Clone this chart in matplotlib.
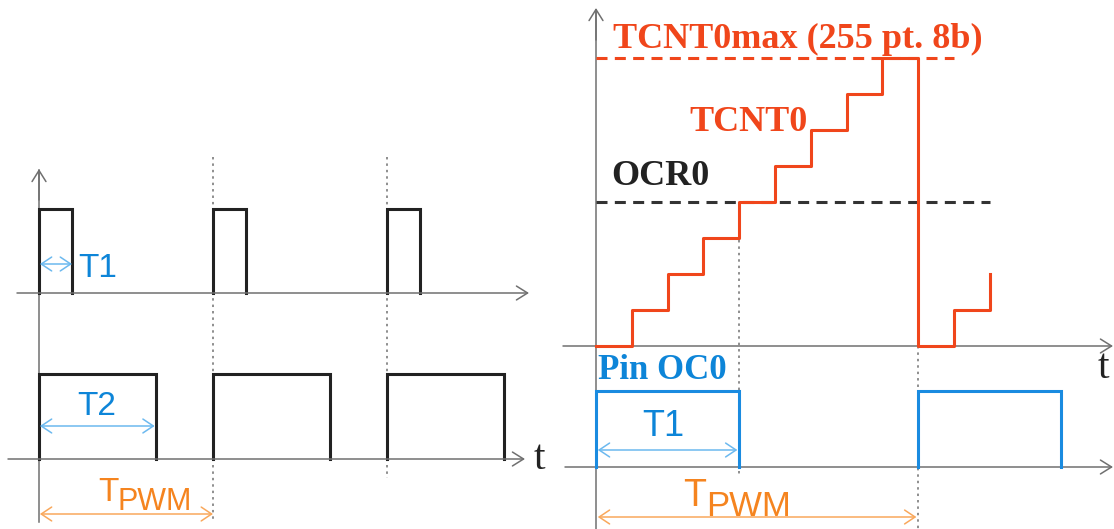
import matplotlib
matplotlib.use('Agg')
import matplotlib.pyplot as plt
from matplotlib.transforms import Affine2D, blended_transform_factory

# ---------------- data ----------------
# left panel: time in PWM periods
left_period_starts = [0, 1, 2]
left_duty_t1 = 0.19      # short pulse (T1)
left_duty_t2 = 0.675     # long pulse (T2)
# right panel: time in timer ticks, counter in steps
tcnt0_ticks = [0, 1, 2, 3, 4, 5, 6, 7, 8, 9, 10, 11]
tcnt0_values = [0, 1, 2, 3, 4, 5, 6, 7, 8, 0, 1, 2]
tcnt0_max = 8
ocr0_level = 4
pin_high = [(0, 4), (9, 13)]
pwm_period_ticks = 9

# ---------------- styles ----------------
W, H = 1114, 529
RED = '#f0461b'
BLUE = '#1a8be0'
BLUE_T = '#0d85d8'
LBLUE = '#6cb9ef'
ORANGE_T = '#f5841f'
ORANGE_A = '#f9a85c'
BLACK = '#222222'
AXC = '#707070'
SERIF = 'Liberation Serif'
SANS = 'Liberation Sans'

fig = plt.figure(figsize=(W / 100, H / 100), dpi=100)
ax = fig.add_axes([0, 0, 1, 1])
ax.set_xlim(0, W)
ax.set_ylim(H, 0)
ax.axis('off')
td = ax.transData

# panel scales (library transforms)
L_X0, L_SX = 39, 174
R_X0, R_SX = 596, 35.8
left_x = Affine2D().scale(L_SX, 1).translate(L_X0, 0) + td
right_x = Affine2D().scale(R_SX, 1).translate(R_X0, 0) + td
left_x_blend = blended_transform_factory(left_x, td)
right_x_blend = blended_transform_factory(right_x, td)
left_top = Affine2D().scale(L_SX, -84).translate(L_X0, 293) + td
left_bot = Affine2D().scale(L_SX, -85).translate(L_X0, 459) + td
right_cnt = Affine2D().scale(R_SX, -36).translate(R_X0, 346) + td
right_pin = Affine2D().scale(R_SX, -76).translate(R_X0, 467) + td


def axis_arrow(x0, y0, x1, y1):
    ax.annotate('', xy=(x1, y1), xytext=(x0, y0), xycoords='data',
                arrowprops=dict(arrowstyle='->,head_length=0.8,head_width=0.5',
                                lw=1.1, color=AXC, shrinkA=0, shrinkB=0))


def dim_arrow(x0, x1, y, trans, color):
    ax.annotate('', xy=(x1, y), xytext=(x0, y), xycoords=trans,
                arrowprops=dict(arrowstyle='<->,head_length=0.75,head_width=0.5',
                                lw=1.1, color=color, shrinkA=0, shrinkB=0))


def dotted(x, y0, y1, trans):
    ax.plot([x, x], [y0, y1], transform=trans, color=AXC, lw=1.1,
            dashes=(1.6, 2.6), zorder=1)

# ---------------- left panel ----------------
for s in left_period_starts:
    ax.plot([s, s, s + left_duty_t1, s + left_duty_t1], [0, 1, 1, 0],
            transform=left_top, color=BLACK, lw=2.2, solid_joinstyle='miter', zorder=3)
    ax.plot([s, s, s + left_duty_t2, s + left_duty_t2], [0, 1, 1, 0],
            transform=left_bot, color=BLACK, lw=2.2, solid_joinstyle='miter', zorder=3)

ax.plot([L_X0, L_X0], [522, 170], color=AXC, lw=1.1, zorder=2)
axis_arrow(L_X0, 200, L_X0, 169)
axis_arrow(17, 293, 529, 293)
axis_arrow(8, 459, 525, 459)
dotted(1, 157, 521, left_x_blend)
dotted(2, 157, 478, left_x_blend)

dim_arrow(0.005, left_duty_t1, 264, left_x_blend, LBLUE)
dim_arrow(0.005, left_duty_t2 - 0.01, 426, left_x_blend, LBLUE)
dim_arrow(0.005, 1, 514, left_x_blend, ORANGE_A)

ax.text(78, 277, 'T1', family=SANS, fontsize=24, color=BLUE_T, va='baseline')
ax.text(77, 415, 'T2', family=SANS, fontsize=24, color=BLUE_T, va='baseline')
ax.text(98, 501, 'T', family=SANS, fontsize=24, color=ORANGE_T, va='baseline')
ax.text(118, 510, 'PWM', family=SANS, fontsize=22, color=ORANGE_T, va='baseline')
ax.text(534, 469, 't', family=SERIF, fontsize=30, color=BLACK, va='baseline')

# ---------------- right panel ----------------
ax.plot([R_X0, R_X0], [529, 10], color=AXC, lw=1.1, zorder=2)
axis_arrow(R_X0, 40, R_X0, 8)
axis_arrow(563, 346, 1113, 346)
axis_arrow(565, 467, 1113, 467)

ax.plot([0, 10], [tcnt0_max, tcnt0_max], transform=right_cnt, color=RED,
        lw=2.2, dashes=(3.6, 2.4), zorder=2)
ax.plot([0, 11], [ocr0_level, ocr0_level], transform=right_cnt, color='#333333',
        lw=2.2, dashes=(3.6, 2.4), zorder=2)
ax.step(tcnt0_ticks, tcnt0_values, where='post', transform=right_cnt,
        color=RED, lw=2.2, zorder=4)

for a, b in pin_high:
    ax.plot([a, a, b, b], [0, 1, 1, 0], transform=right_pin, color=BLUE,
            lw=2.2, solid_joinstyle='miter', zorder=4)

dotted(ocr0_level, 240, 474, right_x_blend)
dotted(pwm_period_ticks, 346, 529, right_x_blend)

dim_arrow(0.05, ocr0_level - 0.05, 450, right_x_blend, LBLUE)
dim_arrow(0.05, pwm_period_ticks - 0.05, 517, right_x_blend, ORANGE_A)

ax.text(613, 48, 'TCNT0max (255 pt. 8b)', family=SERIF, weight='bold',
        fontsize=26, color=RED, va='baseline')
ax.text(689, 131, 'TCNT0', family=SERIF, weight='bold', fontsize=26,
        color=RED, va='baseline')
ax.text(611, 185, 'OCR0', family=SERIF, weight='bold', fontsize=26,
        color=BLACK, va='baseline')
ax.text(598, 379, 'Pin OC0', family=SERIF, weight='bold', fontsize=25,
        color=BLUE_T, va='baseline')
ax.text(642, 436, 'T1', family=SANS, fontsize=26, color=BLUE_T, va='baseline')
ax.text(683, 506, 'T', family=SANS, fontsize=27, color=ORANGE_T, va='baseline')
ax.text(706, 516, 'PWM', family=SANS, fontsize=25, color=ORANGE_T, va='baseline')
ax.text(1098, 378, 't', family=SERIF, fontsize=30, color=BLACK, va='baseline')

fig.savefig('out.png', dpi=100)
